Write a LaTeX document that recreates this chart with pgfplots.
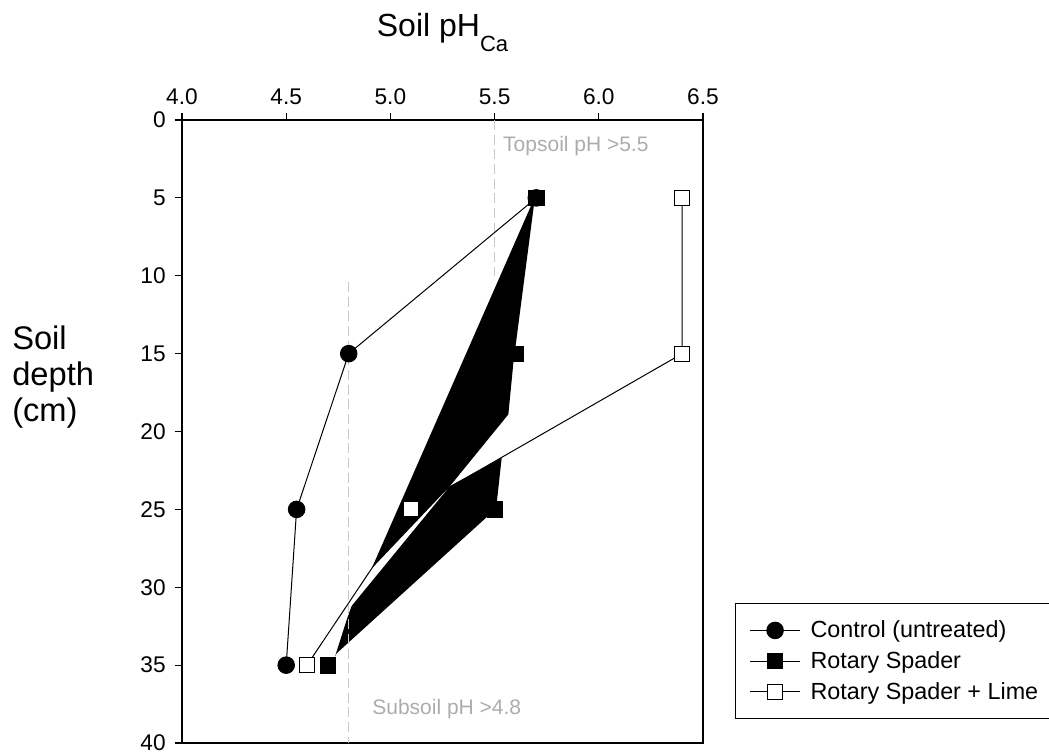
\documentclass[border=0pt]{standalone}
\usepackage{pgfplots}
\pgfplotsset{compat=1.18}
\usepackage{fontspec}
\setmainfont{Liberation Sans}
\definecolor{refline}{RGB}{200,200,200}
\definecolor{reftext}{RGB}{172,172,172}

\begin{document}
\begin{tikzpicture}
\path[use as bounding box] (-136.5pt,-8.25pt) rectangle (650.25pt,557.25pt);
\begin{axis}[
  scale only axis,
  width=390.75pt, height=467.25pt,
  at={(0pt,0pt)}, anchor=south west,
  xmin=4, xmax=6.5, ymin=0, ymax=40,
  y dir=reverse,
  xtick={4,4.5,5,5.5,6,6.5},
  ytick={0,5,10,15,20,25,30,35,40},
  xtick pos=right, xticklabel pos=right,
  ytick pos=left,
  tick align=outside,
  major tick length=5.25pt,
  axis line style={line width=0.9pt},
  every tick/.style={black, line width=0.9pt},
  xticklabel style={font=\fontsize{17}{20}\selectfont, yshift=2.5pt,
    /pgf/number format/.cd, fixed, fixed zerofill, precision=1, assume math mode=true},
  yticklabel style={font=\fontsize{17}{20}\selectfont, xshift=-3.5pt,
    /pgf/number format/.cd, assume math mode=true},
  legend image code/.code={\draw[mark repeat=2,mark phase=2,#1] plot coordinates {(0pt,0pt) (18.75pt,0pt) (37.5pt,0pt)};
    \path (43pt,0pt);},
  legend style={at={(1.0614,0.2247)}, anchor=north west, draw=black, line width=0.9pt,
    font=\fontsize{17.5}{20}\selectfont, inner xsep=10.5pt, inner ysep=11pt, row sep=4.8pt},
  legend cell align=left,
  clip=false,
]
% black shaded band around the Rotary Spader profile
\addplot[fill=black, draw=none, forget plot] coordinates {
  (5.694,4.92) (5.59,15.6) (5.566,18.9) (5.286,23.5) (4.91,28.8)
};
\addplot[fill=black, draw=none, forget plot] coordinates {
  (5.534,21.7) (5.510,24.6) (5.462,25.5) (4.742,34.24) (4.734,34.46)
  (4.79,32.1) (4.814,31.2) (5.286,23.5)
};

% target pH lines
\addplot[refline, line width=0.8pt, dash pattern=on 7.5pt off 3.5pt, forget plot]
  coordinates {(5.5,0) (5.5,10)};
\addplot[refline, line width=0.8pt, dash pattern=on 7.5pt off 3.5pt, forget plot]
  coordinates {(4.8,10.4) (4.8,40)};
\node[anchor=base west, text=reftext, font=\fontsize{15.75}{18}\selectfont, inner sep=0pt]
  at (axis cs:5.54,2.0) {Topsoil pH >5.5};
\node[anchor=base west, text=reftext, font=\fontsize{15.75}{18}\selectfont, inner sep=0pt]
  at (axis cs:4.912,38.2) {Subsoil pH >4.8};

% Control (untreated)
\addplot[black, line width=0.75pt, mark=*, mark size=6.2pt, forget plot] coordinates {
  (5.7,5) (4.8,15) (4.55,25) (4.5,35)
};
% Rotary Spader
\addplot[black, only marks, mark=square*, mark size=5.8pt, forget plot] coordinates {
  (5.7,5) (5.6,15) (5.5,25) (4.7,35)
};
% Rotary Spader + Lime
\addplot[black, line width=0.75pt, mark=square*, mark size=5.6pt,
  mark options={fill=white, line width=0.75pt}, forget plot] coordinates {
  (6.4,5) (6.4,15) (5.1,25) (4.6,35)
};

\addlegendimage{black, line width=0.75pt, mark=*, mark size=6.2pt}
\addlegendentry{Control (untreated)}
\addlegendimage{black, line width=0.75pt, mark=square*, mark size=5.8pt}
\addlegendentry{Rotary Spader}
\addlegendimage{black, line width=0.75pt, mark=square*, mark size=5.6pt, mark options={fill=white}}
\addlegendentry{Rotary Spader + Lime}
\end{axis}

% axis titles
\node[anchor=base, inner sep=0pt, font=\fontsize{24}{28}\selectfont] at (195.4pt,529.5pt)
  {Soil pH\raisebox{-11pt}{\fontsize{16.5}{19}\selectfont Ca}};
\node[anchor=base west, inner sep=0pt, align=left, font=\fontsize{24.5}{27}\selectfont]
  at (-127.5pt,240.75pt) {Soil\\depth\\(cm)};
\end{tikzpicture}
\end{document}
